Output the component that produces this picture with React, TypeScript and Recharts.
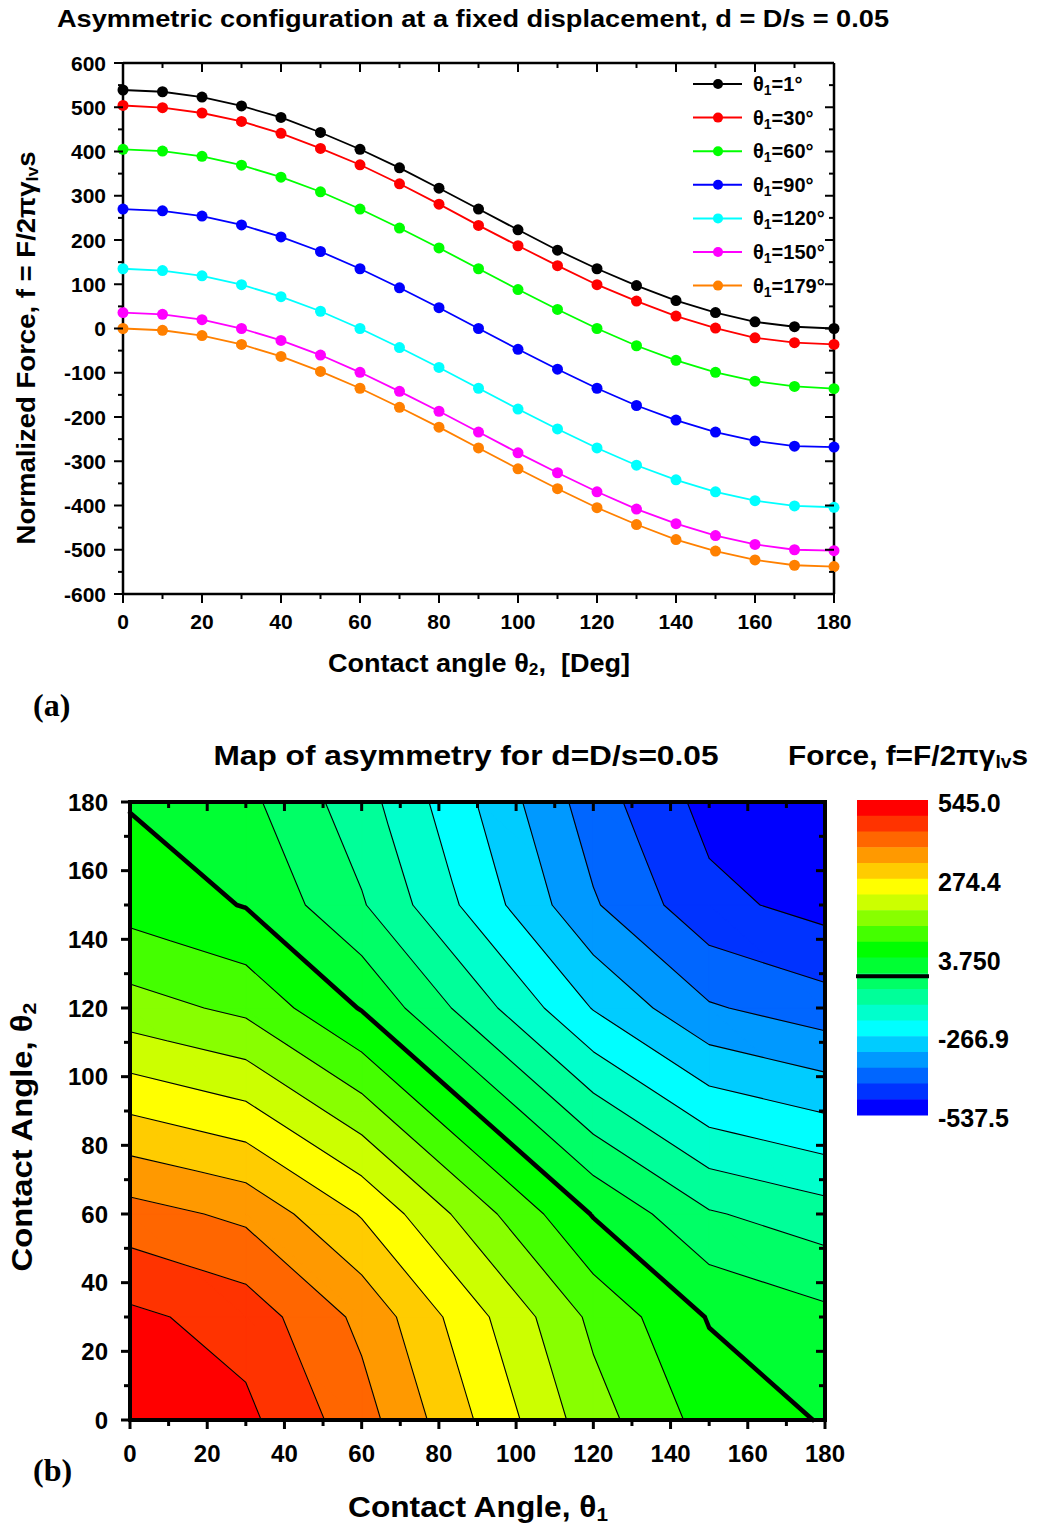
import React from 'react';
import { LineChart, Line, XAxis, YAxis, Legend, ComposedChart, Scatter, ReferenceArea } from 'recharts';

const FONT = '"Liberation Sans", Arial, Helvetica, sans-serif';
const SERIF = '"Liberation Serif", "Times New Roman", serif';

// contact angle θ2 (deg), x axis of panel (a)
const THETA2 = [0, 10, 20, 30, 40, 50, 60, 70, 80, 90, 100, 110, 120, 130, 140, 150, 160, 170, 180];

// normalized force f, one list per θ1
const F_THETA1_1 = [539, 535, 523, 503, 477, 443, 405, 363, 317, 270, 223, 177, 135, 97, 63, 36, 15, 4, 0];
const F_THETA1_30 = [504, 499, 487, 468, 441, 407, 370, 327, 281, 233, 187, 142, 99, 62, 28, 1, -21, -32, -36];
const F_THETA1_60 = [405, 401, 389, 369, 342, 309, 270, 227, 182, 135, 88, 43, 0, -39, -72, -99, -119, -131, -136];
const F_THETA1_90 = [270, 266, 254, 234, 207, 174, 135, 92, 47, 0, -47, -92, -135, -174, -207, -234, -254, -266, -268];
const F_THETA1_120 = [135, 131, 119, 99, 72, 39, 0, -43, -88, -135, -182, -227, -270, -309, -342, -369, -389, -401, -404];
const F_THETA1_150 = [36, 32, 20, 0, -27, -60, -99, -142, -187, -234, -281, -326, -369, -408, -441, -468, -488, -500, -502];
const F_THETA1_179 = [0, -4, -16, -36, -63, -97, -135, -178, -223, -270, -317, -362, -405, -443, -477, -503, -523, -535, -538];

const SERIES = [
  { key: 't1', label: '1', color: '#000000', values: F_THETA1_1 },
  { key: 't30', label: '30', color: '#FF0000', values: F_THETA1_30 },
  { key: 't60', label: '60', color: '#00FF00', values: F_THETA1_60 },
  { key: 't90', label: '90', color: '#0000FF', values: F_THETA1_90 },
  { key: 't120', label: '120', color: '#00FFFF', values: F_THETA1_120 },
  { key: 't150', label: '150', color: '#FF00FF', values: F_THETA1_150 },
  { key: 't179', label: '179', color: '#FF8000', values: F_THETA1_179 },
];

const X_TICKS = THETA2;
const Y_TICKS = [-600, -550, -500, -450, -400, -350, -300, -250, -200, -150, -100, -50, 0, 50, 100, 150, 200, 250, 300, 350, 400, 450, 500, 550, 600];

// panel (b): contour map on a 30° grid (θ1 rows = the series above)
const MAP_NODES = [0, 30, 60, 90, 120, 150, 180];
const MAP_DOMAIN = [0, 180];
const MAP_TICKS = [0, 10, 20, 30, 40, 50, 60, 70, 80, 90, 100, 110, 120, 130, 140, 150, 160, 170, 180];
const LEVEL_MAX = 545.0;
const LEVEL_MIN = -537.5;
const BAND_COLORS = [
  '#FF0000', '#FF3300', '#FF6600', '#FF9900', '#FFCC00', '#FFFF00',
  '#CCFF00', '#88FF00', '#44FF00', '#00FF00',
  '#00FF33', '#00FF66', '#00FF99', '#00FFCC', '#00FFFF',
  '#00CCFF', '#0099FF', '#0066FF', '#0033FF', '#0000FF',
];
const THICK_LEVEL = 10; // 3.750 contour
const STEP = (LEVEL_MAX - LEVEL_MIN) / BAND_COLORS.length;

const rows = THETA2.map((t, i) => {
  const r: any = { theta2: t };
  SERIES.forEach((s) => (r[s.key] = s.values[i]));
  return r;
});

const mapZ = SERIES.map((s) => MAP_NODES.map((t) => s.values[THETA2.indexOf(t)]));
const mapPoints = MAP_NODES.flatMap((a) => MAP_NODES.map((b) => ({ t1: a, t2: b })));

type Side = 'bottom' | 'top' | 'left' | 'right';
type TickOpts = { side: Side; major: number; len: number; minor: number; sw: number; label?: boolean; font?: number; gap?: number };

const makeTick = (o: TickOpts) => (props: any) => {
  const { x, y, payload } = props;
  const v = Number(payload.value);
  const isMajor = Math.abs(v % o.major) < 1e-6;
  const L = isMajor ? o.len : o.minor;
  let x2 = x;
  let y2 = y;
  if (o.side === 'bottom' || o.side === 'top') y2 = y + L;
  else x2 = x - L;
  let label = null;
  if (o.label && isMajor) {
    label =
      o.side === 'bottom' ? (
        <text x={x} y={y + (o.gap || 0)} textAnchor="middle" dominantBaseline="central" fontFamily={FONT} fontWeight="bold" fontSize={o.font} fill="#000">
          {v}
        </text>
      ) : (
        <text x={x - (o.gap || 0)} y={y} textAnchor="end" dominantBaseline="central" fontFamily={FONT} fontWeight="bold" fontSize={o.font} fill="#000">
          {v}
        </text>
      );
  }
  return (
    <g>
      <line x1={x} y1={y} x2={x2} y2={y2} stroke="#000" strokeWidth={o.sw} />
      {label}
    </g>
  );
};

const LegendBox = () => (
  <svg width={150} height={240}>
    {SERIES.map((s, i) => {
      const cy = 18 + i * 33.6;
      return (
        <g key={s.key}>
          <line x1={5} y1={cy} x2={54} y2={cy} stroke={s.color} strokeWidth={2} />
          <circle cx={30} cy={cy} r={5} fill={s.color} />
          <text x={65} y={cy} dominantBaseline="central" fontFamily={FONT} fontWeight="bold" fontSize={20} fill="#000">
            θ<tspan dy={6} fontSize={14}>1</tspan>
            <tspan dy={-6}>={s.label}°</tspan>
          </text>
        </g>
      );
    })}
  </svg>
);

type P = { a: number; b: number; v: number };

function clip(poly: P[], level: number, keepAbove: boolean): P[] {
  const out: P[] = [];
  const n = poly.length;
  for (let k = 0; k < n; k++) {
    const p = poly[k];
    const q = poly[(k + 1) % n];
    const pin = keepAbove ? p.v >= level : p.v <= level;
    const qin = keepAbove ? q.v >= level : q.v <= level;
    if (pin) out.push(p);
    if (pin !== qin) {
      const t = (level - p.v) / (q.v - p.v);
      out.push({ a: p.a + t * (q.a - p.a), b: p.b + t * (q.b - p.b), v: level });
    }
  }
  return out;
}

function triangles(): P[][] {
  const tris: P[][] = [];
  for (let i = 0; i < MAP_NODES.length - 1; i++) {
    for (let j = 0; j < MAP_NODES.length - 1; j++) {
      const A = { a: MAP_NODES[i], b: MAP_NODES[j], v: mapZ[i][j] };
      const B = { a: MAP_NODES[i + 1], b: MAP_NODES[j], v: mapZ[i + 1][j] };
      const C = { a: MAP_NODES[i], b: MAP_NODES[j + 1], v: mapZ[i][j + 1] };
      const D = { a: MAP_NODES[i + 1], b: MAP_NODES[j + 1], v: mapZ[i + 1][j + 1] };
      tris.push([A, B, C], [B, D, C]);
    }
  }
  return tris;
}

const ContourMap = (props: any) => {
  const { x, y, width, height } = props;
  const span = MAP_DOMAIN[1] - MAP_DOMAIN[0];
  const px = (t: number) => x + ((t - MAP_DOMAIN[0]) / span) * width;
  const py = (t: number) => y + height - ((t - MAP_DOMAIN[0]) / span) * height;
  const tris = triangles();

  const bands = BAND_COLORS.map((c, b) => {
    const hi = b === 0 ? Infinity : LEVEL_MAX - b * STEP;
    const lo = b === BAND_COLORS.length - 1 ? -Infinity : LEVEL_MAX - (b + 1) * STEP;
    let d = '';
    tris.forEach((tri) => {
      const poly = clip(clip(tri, lo, true), hi, false);
      if (poly.length >= 3) d += 'M' + poly.map((p) => `${px(p.a).toFixed(2)},${py(p.b).toFixed(2)}`).join('L') + 'Z';
    });
    return <path key={c} d={d} fill={c} stroke={c} strokeWidth={0.8} />;
  });

  const lines = [];
  for (let k = 1; k < BAND_COLORS.length; k++) {
    const L = LEVEL_MAX - k * STEP;
    let d = '';
    tris.forEach((tri) => {
      const pts: string[] = [];
      for (let e = 0; e < 3; e++) {
        const p = tri[e];
        const q = tri[(e + 1) % 3];
        if ((p.v - L) * (q.v - L) < 0) {
          const t = (L - p.v) / (q.v - p.v);
          pts.push(`${px(p.a + t * (q.a - p.a)).toFixed(2)},${py(p.b + t * (q.b - p.b)).toFixed(2)}`);
        }
      }
      if (pts.length === 2) d += `M${pts[0]}L${pts[1]}`;
    });
    lines.push(
      <path key={k} d={d} fill="none" stroke="#000" strokeWidth={k === THICK_LEVEL ? 4.5 : 1.1} strokeLinecap="round" strokeLinejoin="round" />
    );
  }

  return (
    <g>
      {bands}
      {lines}
      <rect x={x} y={y} width={width} height={height} fill="none" stroke="#000" strokeWidth={4} />
    </g>
  );
};

const fmtLevel = (v: number) => v.toPrecision(4);

export default function App() {
  const topAxisLine = { stroke: '#000', strokeWidth: 2.5 };
  const mapAxisLine = { stroke: '#000', strokeWidth: 4 };
  const cbX = 857;
  const cbY = 800;
  const cbW = 71;
  const cbH = 315;
  const bandH = cbH / BAND_COLORS.length;
  const stretch = { lengthAdjust: 'spacingAndGlyphs' as const };

  return (
    <div style={{ position: 'absolute', left: 0, top: 0, width: 1039, height: 1530, background: '#fff' }}>
      <div style={{ position: 'absolute', left: 0, top: 0 }}>
        <LineChart width={1039} height={700} data={rows} margin={{ top: 62, right: 204, bottom: 76, left: 63 }}>
          <XAxis
            dataKey="theta2"
            type="number"
            domain={[0, 180]}
            ticks={X_TICKS}
            interval={0}
            height={30}
            tickSize={0}
            tickMargin={0}
            tickLine={false}
            axisLine={topAxisLine}
            tick={makeTick({ side: 'bottom', major: 20, len: 9, minor: 5, sw: 2, label: true, font: 21, gap: 27 })}
          />
          <XAxis
            xAxisId="top"
            orientation="top"
            dataKey="theta2"
            type="number"
            domain={[0, 180]}
            ticks={X_TICKS}
            interval={0}
            height={1}
            tickSize={0}
            tickMargin={0}
            tickLine={false}
            axisLine={topAxisLine}
            tick={makeTick({ side: 'top', major: 20, len: 9, minor: 5, sw: 2 })}
          />
          <YAxis
            type="number"
            domain={[-600, 600]}
            ticks={Y_TICKS}
            interval={0}
            width={60}
            tickSize={0}
            tickMargin={0}
            tickLine={false}
            axisLine={topAxisLine}
            tick={makeTick({ side: 'left', major: 100, len: 9, minor: 5, sw: 2, label: true, font: 21, gap: 17 })}
          />
          <YAxis
            yAxisId="right"
            orientation="right"
            type="number"
            domain={[-600, 600]}
            ticks={Y_TICKS}
            interval={0}
            width={1}
            tickSize={0}
            tickMargin={0}
            tickLine={false}
            axisLine={topAxisLine}
            tick={makeTick({ side: 'right', major: 100, len: 9, minor: 5, sw: 2 })}
          />
          <Line
            xAxisId="top"
            yAxisId="right"
            dataKey={SERIES[0].key}
            stroke="none"
            dot={false}
            activeDot={false}
            legendType="none"
            isAnimationActive={false}
          />
          {SERIES.map((s) => (
            <Line
              key={s.key}
              type="linear"
              dataKey={s.key}
              stroke={s.color}
              strokeWidth={1.8}
              dot={{ r: 5.5, fill: s.color, stroke: 'none' }}
              activeDot={false}
              isAnimationActive={false}
            />
          ))}
          <Legend
            layout="horizontal"
            verticalAlign="middle"
            align="center"
            content={() => <LegendBox />}
            wrapperStyle={{ position: 'absolute', top: 66, left: 688, width: 150, height: 240 }}
          />
        </LineChart>
      </div>

      <div style={{ position: 'absolute', left: 0, top: 700 }}>
        <ComposedChart width={1039} height={830} margin={{ top: 101, right: 213, bottom: 70, left: 70 }}>
          <XAxis
            dataKey="t1"
            type="number"
            domain={MAP_DOMAIN}
            ticks={MAP_TICKS}
            interval={0}
            height={40}
            tickSize={0}
            tickMargin={0}
            tickLine={false}
            axisLine={mapAxisLine}
            tick={makeTick({ side: 'bottom', major: 20, len: 9, minor: 6, sw: 3, label: true, font: 24, gap: 33 })}
          />
          <XAxis
            xAxisId="top"
            orientation="top"
            dataKey="t1"
            type="number"
            domain={MAP_DOMAIN}
            ticks={MAP_TICKS}
            interval={0}
            height={1}
            tickSize={0}
            tickMargin={0}
            tickLine={false}
            axisLine={mapAxisLine}
            tick={makeTick({ side: 'top', major: 20, len: 9, minor: 6, sw: 3 })}
          />
          <YAxis
            dataKey="t2"
            type="number"
            domain={MAP_DOMAIN}
            ticks={MAP_TICKS}
            interval={0}
            width={60}
            tickSize={0}
            tickMargin={0}
            tickLine={false}
            axisLine={mapAxisLine}
            tick={makeTick({ side: 'left', major: 20, len: 9, minor: 6, sw: 3, label: true, font: 24, gap: 22 })}
          />
          <YAxis
            yAxisId="right"
            orientation="right"
            dataKey="t2"
            type="number"
            domain={MAP_DOMAIN}
            ticks={MAP_TICKS}
            interval={0}
            width={1}
            tickSize={0}
            tickMargin={0}
            tickLine={false}
            axisLine={mapAxisLine}
            tick={makeTick({ side: 'right', major: 20, len: 9, minor: 6, sw: 3 })}
          />
          <Scatter data={mapPoints} shape={() => <g />} isAnimationActive={false} legendType="none" />
          <Scatter data={mapPoints} xAxisId="top" yAxisId="right" shape={() => <g />} isAnimationActive={false} legendType="none" />
          <ReferenceArea x1={MAP_DOMAIN[0]} x2={MAP_DOMAIN[1]} y1={MAP_DOMAIN[0]} y2={MAP_DOMAIN[1]} shape={(p: any) => <ContourMap {...p} />} />
        </ComposedChart>
      </div>

      <svg width={1039} height={1530} style={{ position: 'absolute', left: 0, top: 0, pointerEvents: 'none' }} fontFamily={FONT} fontWeight="bold" fill="#000">
        <text x={473} y={18} textAnchor="middle" dominantBaseline="central" fontSize={24} textLength={832} {...stretch}>
          Asymmetric configuration at a fixed displacement, d = D/s = 0.05
        </text>
        <text transform="translate(26,348) rotate(-90)" textAnchor="middle" dominantBaseline="central" fontSize={25} textLength={393} {...stretch}>
          Normalized Force, f = F/2πγ<tspan dy={6} fontSize={16}>lv</tspan>
          <tspan dy={-6}>s</tspan>
        </text>
        <text x={479} y={663} textAnchor="middle" dominantBaseline="central" fontSize={25} textLength={302} {...stretch}>
          Contact angle θ<tspan dy={6} fontSize={16}>2</tspan>
          <tspan dy={-6}>,{'\u00a0\u00a0'}[Deg]</tspan>
        </text>
        <text x={33} y={716} fontFamily={SERIF} fontSize={32}>
          (a)
        </text>

        <text x={466} y={755} textAnchor="middle" dominantBaseline="central" fontSize={28} textLength={505} {...stretch}>
          Map of asymmetry for d=D/s=0.05
        </text>
        <text x={908} y={755} textAnchor="middle" dominantBaseline="central" fontSize={28} textLength={240} {...stretch}>
          Force, f=F/2πγ<tspan dy={7} fontSize={18}>lv</tspan>
          <tspan dy={-7}>s</tspan>
        </text>
        <text transform="translate(22,1137) rotate(-90)" textAnchor="middle" dominantBaseline="central" fontSize={29} textLength={269} {...stretch}>
          Contact Angle, θ<tspan dy={7} fontSize={19}>2</tspan>
        </text>
        <text x={478} y={1507} textAnchor="middle" dominantBaseline="central" fontSize={29} textLength={260} {...stretch}>
          Contact Angle, θ<tspan dy={7} fontSize={19}>1</tspan>
        </text>
        <text x={33} y={1481} fontFamily={SERIF} fontSize={32}>
          (b)
        </text>

        {BAND_COLORS.map((c, b) => (
          <rect key={c} x={cbX} y={cbY + b * bandH} width={cbW} height={bandH + 0.5} fill={c} />
        ))}
        <line x1={cbX - 1} x2={cbX + cbW + 1} y1={cbY + 11 * bandH + 3} y2={cbY + 11 * bandH + 3} stroke="#000" strokeWidth={4} />
        {[0, 5, 10, 15, 20].map((k) => (
          <text key={k} x={938} y={cbY + k * bandH + 3} dominantBaseline="central" fontSize={25}>
            {fmtLevel(LEVEL_MAX - k * STEP)}
          </text>
        ))}
      </svg>
    </div>
  );
}
